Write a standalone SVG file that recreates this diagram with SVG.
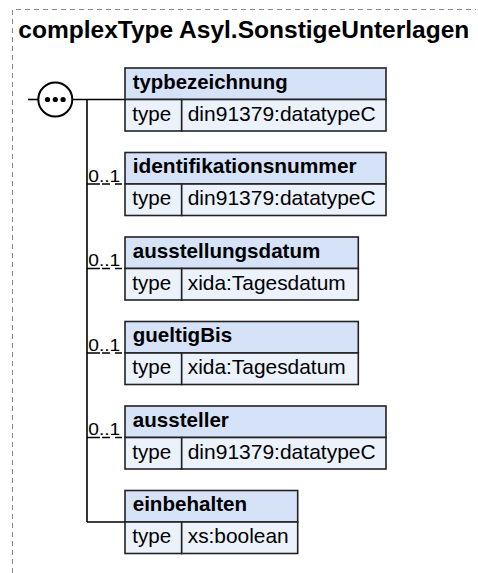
<svg xmlns="http://www.w3.org/2000/svg" width="478" height="573" viewBox="0 0 478 573">
<style>
.frame{fill:none;stroke:#8a8a8a;stroke-width:1;stroke-dasharray:5,4}
.title{font-family:"Liberation Sans",Arial,sans-serif;font-weight:bold;font-size:23px;fill:#000}
.hdr{fill:#d5e2f8;stroke:#222;stroke-width:1.6}
.row{fill:#ebf2fc;stroke:#222;stroke-width:1.6}
.name{font-family:"Liberation Sans",Arial,sans-serif;font-weight:bold;font-size:20.6px;fill:#000}
.txt{font-family:"Liberation Sans",Arial,sans-serif;font-size:20.6px;fill:#000}
.occ{font-family:"Liberation Sans",Arial,sans-serif;font-size:17px;fill:#000}
.line{fill:none;stroke:#000;stroke-width:1.6}
.opt{fill:none;stroke:#000;stroke-width:1.6;stroke-dasharray:13,2,8,5,7,3}
</style>
<path class="frame" d="M12.5,573 V9.5 H476"/>
<text class="title" x="18.3" y="38.3" textLength="451" lengthAdjust="spacingAndGlyphs">complexType Asyl.SonstigeUnterlagen</text>

<g id="connectors">
  <line class="line" x1="28" y1="99.5" x2="38" y2="99.5"/>
  <line class="line" x1="73" y1="99.5" x2="125" y2="99.5"/>
  <line class="line" x1="87" y1="99.5" x2="87" y2="522"/>
  <line class="opt" x1="87" y1="184" x2="125" y2="184"/>
  <line class="opt" x1="87" y1="268.5" x2="125" y2="268.5"/>
  <line class="opt" x1="87" y1="353" x2="125" y2="353"/>
  <line class="opt" x1="87" y1="437.5" x2="125" y2="437.5"/>
  <line class="line" x1="87" y1="522" x2="125" y2="522"/>
  <text class="occ" x="88.3" y="181.7" textLength="32" lengthAdjust="spacingAndGlyphs">0..1</text>
  <text class="occ" x="88.3" y="266.2" textLength="32" lengthAdjust="spacingAndGlyphs">0..1</text>
  <text class="occ" x="88.3" y="350.7" textLength="32" lengthAdjust="spacingAndGlyphs">0..1</text>
  <text class="occ" x="88.3" y="435.2" textLength="32" lengthAdjust="spacingAndGlyphs">0..1</text>
</g>

<g id="sequence">
  <circle cx="55.3" cy="99.5" r="17" fill="#fff" stroke="#000" stroke-width="2"/>
  <circle cx="47.5" cy="99.5" r="2.6" fill="#000"/>
  <circle cx="55.3" cy="99.5" r="2.6" fill="#000"/>
  <circle cx="63.1" cy="99.5" r="2.6" fill="#000"/>
</g>

<g id="typbezeichnung">
  <rect class="hdr" x="125" y="68" width="261" height="31.5"/>
  <rect class="row" x="125" y="99.5" width="56.7" height="31.5"/>
  <rect class="row" x="181.7" y="99.5" width="204.3" height="31.5"/>
  <text class="name" x="132.7" y="88.5" textLength="155" lengthAdjust="spacingAndGlyphs">typbezeichnung</text>
  <text class="txt" x="132.3" y="120.7">type</text>
  <text class="txt" x="187.7" y="120.7" textLength="188" lengthAdjust="spacingAndGlyphs">din91379:datatypeC</text>
</g>

<g id="identifikationsnummer">
  <rect class="hdr" x="125" y="152.5" width="261" height="31.5"/>
  <rect class="row" x="125" y="184" width="56.7" height="31.5"/>
  <rect class="row" x="181.7" y="184" width="204.3" height="31.5"/>
  <text class="name" x="132.7" y="173" textLength="224" lengthAdjust="spacingAndGlyphs">identifikationsnummer</text>
  <text class="txt" x="132.3" y="205.2">type</text>
  <text class="txt" x="187.7" y="205.2" textLength="188" lengthAdjust="spacingAndGlyphs">din91379:datatypeC</text>
</g>

<g id="ausstellungsdatum">
  <rect class="hdr" x="125" y="237" width="233.3" height="31.5"/>
  <rect class="row" x="125" y="268.5" width="56.7" height="31.5"/>
  <rect class="row" x="181.7" y="268.5" width="176.6" height="31.5"/>
  <text class="name" x="132.7" y="257.5">ausstellungsdatum</text>
  <text class="txt" x="132.3" y="289.7">type</text>
  <text class="txt" x="187.7" y="289.7" textLength="158" lengthAdjust="spacingAndGlyphs">xida:Tagesdatum</text>
</g>

<g id="gueltigBis">
  <rect class="hdr" x="125" y="321.5" width="233.3" height="31.5"/>
  <rect class="row" x="125" y="353" width="56.7" height="31.5"/>
  <rect class="row" x="181.7" y="353" width="176.6" height="31.5"/>
  <text class="name" x="132.7" y="342">gueltigBis</text>
  <text class="txt" x="132.3" y="374.2">type</text>
  <text class="txt" x="187.7" y="374.2" textLength="158" lengthAdjust="spacingAndGlyphs">xida:Tagesdatum</text>
</g>

<g id="aussteller">
  <rect class="hdr" x="125" y="406" width="261" height="31.5"/>
  <rect class="row" x="125" y="437.5" width="56.7" height="31.5"/>
  <rect class="row" x="181.7" y="437.5" width="204.3" height="31.5"/>
  <text class="name" x="132.7" y="426.5">aussteller</text>
  <text class="txt" x="132.3" y="458.7">type</text>
  <text class="txt" x="187.7" y="458.7" textLength="188" lengthAdjust="spacingAndGlyphs">din91379:datatypeC</text>
</g>

<g id="einbehalten">
  <rect class="hdr" x="125" y="490.5" width="172.7" height="31.5"/>
  <rect class="row" x="125" y="522" width="56.7" height="31.5"/>
  <rect class="row" x="181.7" y="522" width="116" height="31.5"/>
  <text class="name" x="132.7" y="511">einbehalten</text>
  <text class="txt" x="132.3" y="543.2">type</text>
  <text class="txt" x="187.7" y="543.2" textLength="101" lengthAdjust="spacingAndGlyphs">xs:boolean</text>
</g>
</svg>
